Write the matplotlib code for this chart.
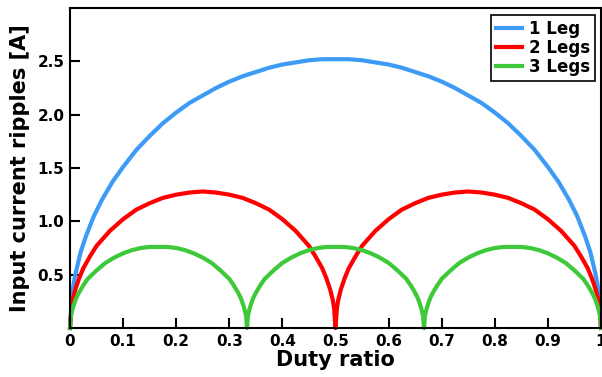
import matplotlib.pyplot as plt

# duty ratio points and ripple values
d_1leg = [0, .005, .01, .02, .03, .045, .06, .08, .1, .125, .15, .175, .2, .225, .25,
          .275, .3, .325, .35, .375, .4, .425, .45, .475, .5, .525, .55, .575, .6,
          .625, .65, .675, .7, .725, .75, .775, .8, .825, .85, .875, .9, .92, .94,
          .955, .97, .98, .99, .995, 1.0]
i_1leg = [0, .36, .50, .71, .86, 1.05, 1.20, 1.37, 1.51, 1.67, 1.80, 1.92, 2.02, 2.11,
          2.18, 2.25, 2.31, 2.36, 2.40, 2.44, 2.47, 2.49, 2.51, 2.52, 2.52, 2.52, 2.51,
          2.49, 2.47, 2.44, 2.40, 2.36, 2.31, 2.25, 2.18, 2.11, 2.02, 1.92, 1.80, 1.67,
          1.51, 1.37, 1.20, 1.05, .86, .71, .50, .36, 0]

d_2legs = [0, .0025, .005, .01, .0175, .025, .0375, .05, .075, .1, .125, .15, .175, .2,
           .225, .25, .275, .3, .325, .35, .375, .4, .425, .45, .4625, .475, .4825, .49,
           .495, .4975, .5,
           .5025, .505, .51, .5175, .525, .5375, .55, .575, .6, .625, .65, .675, .7,
           .725, .75, .775, .8, .825, .85, .875, .9, .925, .95, .9625, .975, .9825, .99,
           .995, .9975, 1.0]
i_2legs = [0, .18, .26, .36, .47, .56, .67, .77, .91, 1.02, 1.11, 1.17, 1.22, 1.25,
           1.27, 1.28, 1.27, 1.25, 1.22, 1.17, 1.11, 1.02, .91, .77, .67, .56, .47, .36,
           .26, .18, 0,
           .18, .26, .36, .47, .56, .67, .77, .91, 1.02, 1.11, 1.17, 1.22, 1.25,
           1.27, 1.28, 1.27, 1.25, 1.22, 1.17, 1.11, 1.02, .91, .77, .67, .56, .47, .36,
           .26, .18, 0]

d_3legs = [0, .0017, .0033, .0067, .0117, .0167, .025, .0333, .05, .0667, .0833, .1,
           .1167, .1333, .15, .1667, .1833, .2, .2167, .2333, .25, .2667, .2833, .3,
           .3083, .3167, .3217, .3267, .33, .3317, .3333,
           .335, .3367, .34, .345, .35, .3583, .3667, .3833, .4, .4167, .4333, .45,
           .4667, .4833, .5, .5167, .5333, .55, .5667, .5833, .6, .6167, .6333, .6417,
           .65, .655, .66, .6633, .665, .6667,
           .6683, .67, .6733, .6783, .6833, .6917, .7, .7167, .7333, .75, .7667, .7833,
           .8, .8167, .8333, .85, .8667, .8833, .9, .9167, .9333, .95, .9667, .975,
           .9833, .9883, .9933, .9967, .9983, 1.0]
i_3legs = [0, .11, .15, .21, .28, .33, .40, .46, .54, .61, .66, .70, .73, .75, .76, .76,
           .76, .75, .73, .70, .66, .61, .54, .46, .40, .33, .28, .21, .15, .11, 0,
           .11, .15, .21, .28, .33, .40, .46, .54, .61, .66, .70, .73, .75, .76, .76,
           .76, .75, .73, .70, .66, .61, .54, .46, .40, .33, .28, .21, .15, .11, 0,
           .11, .15, .21, .28, .33, .40, .46, .54, .61, .66, .70, .73, .75, .76, .76,
           .76, .75, .73, .70, .66, .61, .54, .46, .40, .33, .28, .21, .15, .11, 0]

x_ticks = [0, .1, .2, .3, .4, .5, .6, .7, .8, .9, 1]
x_labels = ['0', '0.1', '0.2', '0.3', '0.4', '0.5', '0.6', '0.7', '0.8', '0.9', '1']
y_ticks = [.5, 1.0, 1.5, 2.0, 2.5]
y_labels = ['0.5', '1.0', '1.5', '2.0', '2.5']

plt.rcParams['font.family'] = ['DejaVu Sans']
plt.rcParams['font.weight'] = 'bold'

fig = plt.figure(figsize=(6.02, 3.77), dpi=100)
ax = fig.add_axes([70 / 602, 49 / 377, 531 / 602, 320 / 377])

ax.plot(d_1leg, i_1leg, color='#3d9bf5', lw=3, label='1 Leg', clip_on=False)
ax.plot(d_2legs, i_2legs, color='#ff0000', lw=3, label='2 Legs', clip_on=False)
ax.plot(d_3legs, i_3legs, color='#3ec93a', lw=3, label='3 Legs', clip_on=False)

ax.set_xlim(0, 1)
ax.set_ylim(0, 3)
ax.set_xticks(x_ticks)
ax.set_xticklabels(x_labels, fontsize=11, fontweight='bold')
ax.set_yticks(y_ticks)
ax.set_yticklabels(y_labels, fontsize=11, fontweight='bold')
ax.tick_params(direction='in', length=7, width=1.5, pad=4)
for s in ax.spines.values():
    s.set_linewidth(1.5)

ax.set_xlabel('Duty ratio', fontsize=15, fontweight='bold', labelpad=1)
ax.set_ylabel('Input current ripples [A]', fontsize=15, fontweight='bold', labelpad=5)

leg = ax.legend(loc='upper right', fontsize=12, handlelength=1.6, handletextpad=0.4,
                labelspacing=0.05, borderpad=0.3, borderaxespad=0, fancybox=False,
                framealpha=1, bbox_to_anchor=(0.989, 0.978))
leg.get_frame().set_edgecolor('black')
leg.get_frame().set_linewidth(1.2)
for t in leg.get_texts():
    t.set_fontweight('bold')

plt.savefig('out.png', dpi=100)
